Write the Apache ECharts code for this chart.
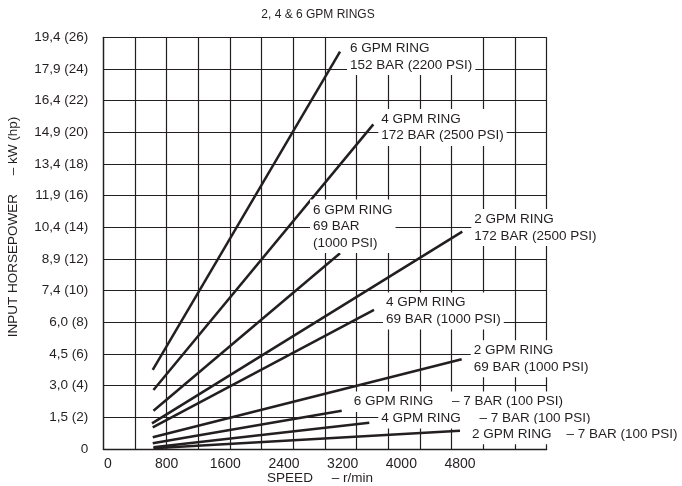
<!DOCTYPE html>
<html>
<head>
<meta charset="utf-8">
<script src="https://cdn.jsdelivr.net/npm/echarts@6/dist/echarts.min.js"></script>
<style>
  html, body { margin: 0; padding: 0; background: #fff; }
  #main { width: 682px; height: 486px; }
</style>
</head>
<body>
<div id="main"></div>
<script>
var chart = echarts.init(document.getElementById('main'));

// y ticks: hp values and their kW (hp) text
var hpTicks = [0, 2, 4, 6, 8, 10, 12, 14, 16, 18, 20, 22, 24, 26];
var kwLabels = ['0', '1,5 (2)', '3,0 (4)', '4,5 (6)', '6,0 (8)', '7,4 (10)', '8,9 (12)',
    '10,4 (14)', '11,9 (16)', '13,4 (18)', '14,9 (20)', '16,4 (22)', '17,9 (24)', '19,4 (26)'];
// x ticks (r/min)
var speedTicks = [0, 800, 1600, 2400, 3200, 4000, 4800];

// lines: [r/min, hp]
var ring6_152 = [[610, 5.0], [3164, 25.1]];
var ring4_172 = [[620, 3.73], [3618, 20.5]];
var ring6_69 = [[620, 2.42], [3164, 12.36]];
var ring2_172 = [[600, 1.62], [4831, 13.73]];
var ring4_69 = [[610, 1.37], [3627, 8.78]];
var ring2_69 = [[610, 0.74], [4823, 5.67]];
var ring6_7 = [[610, 0.36], [3187, 2.42]];
var ring4_7 = [[620, 0.11], [3563, 1.66]];
var ring2_7 = [[620, 0.04], [4800, 1.16]];

var ink = '#231f20';
var font = 'Liberation Sans, Arial, sans-serif';

function ringLine(name, data, text, offset) {
    return {
        name: name,
        type: 'line',
        xAxisIndex: 1,
        data: data,
        symbol: 'none',
        lineStyle: { color: ink, width: 2.5 },
        endLabel: {
            show: true,
            formatter: text,
            distance: 0,
            offset: offset,
            align: 'left',
            verticalAlign: 'middle',
            color: ink,
            fontFamily: font,
            fontSize: 13.5,
            lineHeight: 16.5,
            backgroundColor: '#fff',
            padding: [2, 3]
        }
    };
}

var option = {
    animation: false,
    backgroundColor: '#fff',
    grid: { left: 103.3, top: 37.3, width: 443.4, height: 411.7 },
    graphic: [
        {
            type: 'text', x: 318, y: 15,
            style: { text: '2, 4 & 6 GPM RINGS', fill: ink, font: '12px ' + font, align: 'center', verticalAlign: 'middle' }
        },
        {
            type: 'text', x: 13, y: 227, rotation: Math.PI / 2,
            style: { text: 'INPUT HORSEPOWER     \u2013 kW (hp)', fill: ink, font: '13.5px ' + font, align: 'center', verticalAlign: 'middle' }
        },
        {
            type: 'text', x: 320, y: 478,
            style: { text: 'SPEED     \u2013 r/min', fill: ink, font: '13.5px ' + font, align: 'center', verticalAlign: 'middle' }
        }
    ],
    xAxis: [
        {
            // grid squares only
            type: 'value', min: 0, max: 14, interval: 1,
            axisLine: { show: true, lineStyle: { color: ink, width: 1.3 } },
            axisTick: { show: false },
            axisLabel: { show: false },
            splitLine: { show: true, lineStyle: { color: ink, width: 1.2 } }
        },
        {
            // speed scale
            type: 'value', min: -64, max: 5982, position: 'bottom',
            axisLine: { show: false },
            axisTick: { show: false },
            splitLine: { show: false },
            axisLabel: {
                customValues: speedTicks,
                formatter: function (v) { return String(v); },
                color: ink, fontFamily: font, fontSize: 14, margin: 8
            }
        }
    ],
    yAxis: {
        type: 'value', min: 0, max: 26, interval: 2,
        axisLine: { show: true, lineStyle: { color: ink, width: 1.3 } },
        axisTick: { show: false },
        axisLabel: {
            color: ink, fontFamily: font, fontSize: 13.5, margin: 15,
            formatter: function (v) { return kwLabels[hpTicks.indexOf(v)]; }
        },
        splitLine: { show: true, lineStyle: { color: ink, width: 1.2 } }
    },
    series: [
        ringLine('6 GPM 152 BAR', ring6_152, '6 GPM RING\n152 BAR (2200 PSI)', [7, 5]),
        ringLine('4 GPM 172 BAR', ring4_172, '4 GPM RING\n172 BAR (2500 PSI)', [5, 3]),
        ringLine('6 GPM 69 BAR', ring6_69, '6 GPM RING\n69 BAR\n(1000 PSI)', [-30, -27]),
        ringLine('2 GPM 172 BAR', ring2_172, '2 GPM RING\n172 BAR (2500 PSI)', [9, -4]),
        ringLine('4 GPM 69 BAR', ring4_69, '4 GPM RING\n69 BAR (1000 PSI)', [9, 1]),
        ringLine('2 GPM 69 BAR', ring2_69, '2 GPM RING\n69 BAR (1000 PSI)', [9, -0.5]),
        ringLine('6 GPM 7 BAR', ring6_7, '6 GPM RING     \u2013 7 BAR (100 PSI)', [9, -9]),
        ringLine('4 GPM 7 BAR', ring4_7, '4 GPM RING     \u2013 7 BAR (100 PSI)', [9, -4.4]),
        ringLine('2 GPM 7 BAR', ring2_7, '2 GPM RING    \u2013 7 BAR (100 PSI)', [9, 3.3])
    ]
};
chart.setOption(option);
</script>
</body>
</html>
